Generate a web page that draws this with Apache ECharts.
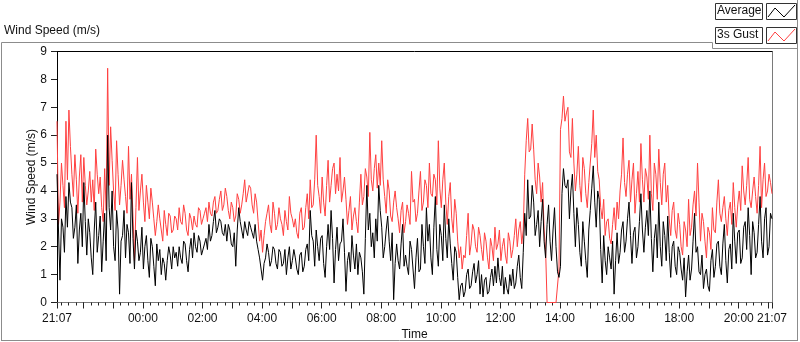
<!DOCTYPE html>
<html>
<head>
<meta charset="utf-8">
<script src="https://cdn.jsdelivr.net/npm/echarts@6.0.0/dist/echarts.min.js"></script>
<style>
  html, body { margin: 0; padding: 0; background: #fff; }
  #chart { width: 800px; height: 342px; }
</style>
</head>
<body>
<div id="chart"></div>
<script>
// samples every 3 minutes, starting 21:07 (minutes relative to midnight)
var startMinute = -173;
var stepMinutes = 3;

// 3s gust (m/s)
var gustSpeed = [
    6.5, 2.8, 3.6, 5.0, 4.2, 3.4, 6.5, 4.4, 6.9, 5.6, 4.6, 3.8, 5.3, 4.4, 3.2, 4.5, 5.3, 3.6, 5.2, 4.2,
    3.5, 4.0, 4.7, 3.6, 4.4, 3.3, 5.5, 4.6, 3.9, 4.5, 3.4, 2.9, 4.8, 3.3, 8.4, 4.2, 6.3, 5.1, 4.0, 3.3,
    5.8, 4.6, 3.5, 4.2, 5.1, 4.4, 3.8, 3.2, 5.6, 3.7, 4.6, 3.1, 1.5, 3.4, 5.2, 3.3, 4.0, 4.6, 3.6, 2.9,
    4.2, 3.6, 3.0, 4.1, 3.6, 3.0, 2.4, 2.9, 3.5, 3.0, 2.6, 2.2, 3.3, 2.8, 2.4, 3.2, 3.1, 2.5, 2.6, 3.1,
    3.0, 2.6, 3.4, 2.9, 2.8, 3.5, 3.2, 2.6, 2.4, 3.2, 3.0, 2.6, 3.1, 2.8, 2.7, 3.4, 3.3, 2.8, 3.0, 3.2,
    3.4, 2.9, 3.6, 3.2, 3.1, 3.6, 3.8, 3.2, 3.3, 3.7, 4.0, 3.3, 3.5, 4.1, 3.8, 3.3, 3.0, 3.6, 3.4, 2.9,
    3.1, 3.9, 3.7, 3.2, 3.5, 3.9, 4.4, 3.6, 3.6, 4.2, 4.1, 3.5, 3.2, 3.9, 3.6, 2.9, 2.2, 2.6, 1.8, 2.4,
    2.9, 3.2, 3.5, 2.8, 2.5, 3.6, 3.2, 2.6, 2.8, 3.4, 3.0, 2.8, 2.4, 3.3, 2.9, 2.6, 3.8, 3.2, 3.0, 2.7,
    3.0, 2.5, 2.3, 3.2, 3.4, 2.6, 2.7, 3.4, 3.9, 3.0, 4.4, 3.4, 3.5, 4.4, 6.0, 4.2, 3.8, 3.2, 4.5, 3.6,
    3.1, 4.2, 5.1, 3.6, 4.2, 4.8, 5.0, 3.9, 4.6, 4.0, 5.2, 3.6, 4.0, 4.5, 3.7, 2.8, 3.3, 3.8, 2.6, 3.1,
    3.4, 2.9, 2.5, 3.6, 4.6, 3.5, 3.8, 4.8, 4.5, 3.8, 6.1, 4.4, 4.0, 4.8, 5.3, 4.1, 5.0, 4.2, 5.8, 4.4,
    3.8, 3.2, 4.4, 4.0, 3.1, 2.9, 3.6, 4.0, 3.4, 3.0, 2.5, 3.3, 3.6, 2.5, 2.9, 3.5, 3.2, 2.8, 4.7, 3.6,
    3.7, 2.9, 3.2, 4.0, 4.7, 3.3, 3.6, 4.4, 4.2, 3.4, 5.0, 3.9, 3.8, 4.6, 4.4, 3.5, 5.8, 4.1, 3.4, 4.4,
    5.0, 3.6, 2.8, 3.8, 4.3, 3.0, 2.5, 3.7, 3.2, 2.2, 1.6, 2.0, 1.2, 1.7, 1.6, 2.4, 3.2, 1.7, 2.1, 2.8,
    2.6, 2.0, 1.8, 2.7, 2.4, 1.9, 1.5, 2.5, 2.2, 1.6, 1.2, 2.3, 2.0, 1.5, 2.7, 1.9, 2.1, 2.6, 1.5, 2.0,
    2.3, 1.7, 1.4, 2.5, 2.2, 1.6, 1.9, 2.4, 3.0, 2.0, 2.6, 2.9, 2.1, 2.6, 4.6, 5.8, 6.6, 5.4, 5.5, 6.4,
    5.5, 4.4, 3.9, 5.0, 4.5, 3.6, 4.3, 2.6, 1.9, 0, 0, 0, 0, 0, 0, 0, 0, 1.2, 6.2, 6.6,
    7.4, 6.5, 6.8, 7.0, 5.4, 5.2, 6.6, 5.0, 4.0, 4.6, 5.6, 4.2, 3.6, 5.2, 4.8, 3.9, 3.4, 4.3, 5.0, 5.7,
    6.9, 5.2, 6.0, 4.7, 4.4, 3.4, 3.0, 3.7, 2.4, 2.9, 3.0, 2.3, 2.1, 2.8, 3.4, 2.6, 3.6, 3.0, 4.0, 4.6,
    5.9, 4.3, 3.8, 4.6, 5.1, 3.6, 4.4, 5.0, 3.2, 3.9, 4.7, 3.6, 5.7, 4.4, 3.6, 4.8, 4.5, 3.7, 6.0, 3.9,
    3.3, 5.0, 4.6, 3.7, 5.5, 4.3, 3.5, 4.6, 5.0, 3.6, 4.2, 3.0, 2.4, 3.3, 3.6, 2.6, 2.3, 3.2, 2.8, 2.0,
    1.7, 2.9, 2.6, 2.0, 3.7, 2.4, 2.7, 3.5, 4.0, 3.1, 5.0, 3.6, 2.2, 3.2, 2.9, 2.2, 1.6, 2.7, 2.5, 1.9,
    3.4, 2.6, 2.5, 3.6, 4.4, 3.2, 2.9, 3.4, 3.8, 3.0, 2.4, 3.3, 3.6, 2.8, 4.3, 3.4, 2.7, 3.5, 4.0, 3.3,
    4.9, 4.0, 3.5, 4.2, 5.2, 3.7, 3.4, 4.0, 4.5, 3.8, 3.2, 4.2, 5.6, 3.4, 4.4, 5.0, 3.8, 4.0, 4.6, 4.3,
    3.9
];

// average (m/s)
var avgSpeed = [
    4.6, 2.6, 0.8, 3.0, 2.7, 1.8, 3.8, 2.7, 4.3, 3.6, 3.4, 2.3, 2.7, 3.5, 1.4, 2.6, 3.2, 2.0, 4.3, 2.9,
    1.7, 3.0, 2.5, 1.6, 1.0, 2.6, 3.6, 1.8, 2.4, 3.1, 1.1, 2.2, 3.2, 1.5, 6.0, 3.4, 2.6, 4.0, 2.0, 1.5,
    3.3, 2.6, 0.3, 2.2, 2.4, 3.3, 1.6, 2.8, 2.5, 1.4, 4.3, 2.3, 1.2, 2.6, 2.2, 1.5, 1.8, 2.7, 1.2, 2.0,
    2.4, 1.5, 0.9, 2.3, 2.0, 1.3, 0.6, 2.1, 1.5, 1.9, 1.0, 1.6, 1.4, 0.8, 1.5, 2.0, 1.7, 1.2, 2.0, 1.6,
    1.8, 1.3, 2.0, 1.6, 1.4, 2.2, 2.1, 1.5, 1.1, 1.9, 2.3, 1.6, 2.5, 2.0, 1.8, 2.4, 2.2, 1.7, 1.7, 2.1,
    2.3, 1.9, 2.8, 2.2, 2.4, 2.9, 3.3, 2.5, 2.7, 3.0, 2.9, 2.5, 2.4, 2.8, 2.2, 2.8, 2.6, 2.1, 2.0, 2.5,
    1.3, 2.6, 3.4, 2.9, 2.6, 2.3, 2.9, 2.6, 2.4, 2.9, 2.7, 2.5, 2.3, 2.8, 2.2, 1.9, 1.6, 1.2, 0.8, 1.4,
    1.6, 2.1, 1.8, 1.3, 1.5, 2.0, 1.9, 1.4, 1.2, 1.9, 1.8, 1.3, 1.4, 1.9, 1.0, 1.6, 2.0, 1.2, 1.5, 1.9,
    1.6, 1.2, 1.0, 1.7, 1.8, 1.1, 1.3, 1.9, 2.1, 1.5, 3.3, 2.4, 2.2, 1.3, 2.6, 2.0, 1.5, 2.3, 2.4, 1.4,
    0.9, 2.0, 2.8, 1.9, 3.3, 2.3, 0.7, 1.9, 2.7, 1.5, 2.1, 2.2, 3.0, 1.8, 0.4, 1.5, 1.8, 1.1, 2.4, 1.7,
    1.2, 2.1, 1.0, 1.8, 1.6, 1.1, 0.3, 2.3, 4.2, 2.6, 3.2, 2.0, 2.5, 1.6, 3.0, 2.2, 4.2, 3.3, 2.7, 1.6,
    2.0, 2.6, 3.1, 2.2, 1.5, 2.5, 0.1, 1.4, 2.1, 1.5, 1.2, 2.1, 2.8, 1.3, 1.7, 1.3, 1.0, 2.2, 1.9, 1.2,
    0.5, 1.6, 2.3, 1.1, 1.2, 2.8, 2.0, 1.4, 3.4, 2.2, 2.8, 1.6, 1.0, 2.7, 3.8, 1.9, 1.3, 2.8, 2.4, 1.5,
    3.5, 2.3, 1.6, 3.0, 2.1, 1.4, 0.8, 2.0, 1.8, 0.9, 0.1, 0.6, 0.7, 0.2, 0.4, 1.0, 1.2, 0.5, 0.6, 1.1,
    1.4, 0.7, 1.0, 1.5, 0.3, 1.0, 0.2, 0.8, 0.9, 0.3, 0.4, 0.9, 1.2, 0.6, 1.3, 0.7, 1.6, 0.9, 0.6, 1.3,
    0.3, 0.9, 0.5, 0.3, 1.0, 0.6, 1.2, 0.5, 0.7, 1.3, 1.7, 0.9, 0.5, 1.8, 3.2, 2.4, 4.4, 3.0, 3.1, 4.2,
    3.6, 2.4, 2.8, 3.3, 2.0, 2.9, 3.7, 2.2, 1.6, 2.8, 3.5, 2.2, 1.5, 2.6, 3.4, 2.0, 1.1, 0.9, 1.3, 3.9,
    4.8, 4.2, 4.1, 4.4, 3.0, 4.0, 4.6, 3.2, 2.0, 3.4, 2.8, 1.8, 1.3, 2.9, 2.2, 1.5, 0.9, 2.6, 3.3, 4.1,
    4.9, 3.6, 2.7, 4.0, 3.7, 1.9, 0.7, 2.4, 1.5, 1.0, 2.0, 1.6, 1.2, 2.2, 0.3, 1.5, 2.5, 1.4, 1.8, 2.6,
    2.9, 1.8, 2.2, 3.0, 3.6, 2.4, 1.4, 2.5, 2.7, 1.6, 2.0, 2.9, 3.9, 2.6, 1.8, 2.7, 3.3, 2.4, 4.0, 2.3,
    1.1, 2.3, 2.8, 1.6, 3.6, 2.0, 1.3, 2.9, 2.4, 1.5, 3.1, 1.8, 0.9, 2.0, 2.2, 1.3, 1.0, 2.0, 1.8, 1.2,
    0.8, 1.6, 0.2, 1.1, 1.7, 0.8, 1.2, 2.2, 3.2, 1.8, 2.0, 1.1, 1.0, 1.7, 0.5, 1.0, 1.2, 0.6, 0.4, 1.5,
    1.9, 0.9, 1.3, 2.1, 2.2, 1.3, 1.0, 2.1, 2.8, 1.5, 0.7, 1.9, 2.1, 1.2, 3.2, 2.2, 1.4, 2.5, 2.6, 1.4,
    1.6, 2.7, 2.9, 1.9, 3.4, 2.4, 1.0, 2.9, 2.5, 1.6, 1.8, 2.8, 3.8, 2.2, 1.6, 3.0, 3.4, 1.7, 2.0, 3.2,
    3.0
];

// x axis labels
var labelMinutes = [-173, 0, 120, 240, 360, 480, 600, 720, 840, 960, 1080, 1200, 1267];
var labelTexts = ['21:07', '00:00', '02:00', '04:00', '06:00', '08:00', '10:00', '12:00', '14:00', '16:00', '18:00', '20:00', '21:07'];

var endMinute = startMinute + stepMinutes * (gustSpeed.length - 1);

var toPairs = function(values) {
    var out = [];
    for (var i = 0; i < values.length; i++)
        out.push([startMinute + i * stepMinutes, values[i]]);
    return out;
};

var hourTicks = [startMinute];
for (var h = -120; h <= 1260; h += 60) hourTicks.push(h);
hourTicks.push(endMinute);
var quarterTicks = [];
for (var q = -165; q < endMinute; q += 15) quarterTicks.push(q);

var font = 'Liberation Sans, Arial, sans-serif';
var textColor = '#111';
var frameColor = '#8c8c8c';

var myChart = echarts.init(document.getElementById('chart'), null, {renderer: 'canvas'});

var option = {
    animation: false,
    backgroundColor: '#fff',
    grid: {left: 57, right: 28, top: 51.5, bottom: 39.5, containLabel: false, outerBoundsMode: 'none'},
    xAxis: [
        {
            type: 'value', min: startMinute, max: endMinute, position: 'bottom',
            name: 'Time', nameLocation: 'middle', nameGap: 26, nameMoveOverlap: false,
            nameTextStyle: {color: textColor, fontFamily: font, fontSize: 12},
            axisLine: {show: true, onZero: false, lineStyle: {color: '#7a7a7a', width: 1}},
            axisTick: {show: true, customValues: hourTicks, length: 6, lineStyle: {color: '#222'}},
            axisLabel: {
                show: true, customValues: labelMinutes, margin: 10,
                color: textColor, fontFamily: font, fontSize: 12,
                formatter: function(v) {
                    var i = labelMinutes.indexOf(v);
                    return i >= 0 ? labelTexts[i] : '';
                }
            },
            splitLine: {show: false}
        },
        {
            type: 'value', min: startMinute, max: endMinute, position: 'bottom',
            axisLine: {show: false, onZero: false},
            axisTick: {show: true, customValues: quarterTicks, length: 3, lineStyle: {color: '#222'}},
            axisLabel: {show: false},
            splitLine: {show: false}
        },
        {
            type: 'value', min: startMinute, max: endMinute, position: 'top',
            axisLine: {show: true, onZero: false, lineStyle: {color: '#000', width: 1}},
            axisTick: {show: false}, axisLabel: {show: false}, splitLine: {show: false}
        }
    ],
    yAxis: [
        {
            type: 'value', min: 0, max: 9, interval: 1, position: 'left',
            name: 'Wind Speed (m/s)', nameLocation: 'middle', nameGap: 19, nameMoveOverlap: false,
            nameTextStyle: {color: textColor, fontFamily: font, fontSize: 12},
            axisLine: {show: true, onZero: false, lineStyle: {color: '#000', width: 1}},
            axisTick: {show: true, length: 6, lineStyle: {color: '#222'}},
            axisLabel: {color: textColor, fontFamily: font, fontSize: 12, margin: 10},
            splitLine: {show: false}
        },
        {
            type: 'value', min: 0, max: 9, position: 'right',
            axisLine: {show: true, onZero: false, lineStyle: {color: '#7a7a7a', width: 1}},
            axisTick: {show: false}, axisLabel: {show: false}, splitLine: {show: false}
        }
    ],
    series: [
        {
            name: '3s Gust', type: 'line', xAxisIndex: 0, yAxisIndex: 0,
            data: toPairs(gustSpeed), showSymbol: false, symbol: 'none',
            lineStyle: {color: '#ff4040', width: 1}, itemStyle: {color: '#ff4040'}
        },
        {
            name: 'Average', type: 'line', xAxisIndex: 0, yAxisIndex: 0,
            data: toPairs(avgSpeed), showSymbol: false, symbol: 'none',
            lineStyle: {color: '#000', width: 1}, itemStyle: {color: '#000'}
        }
    ],
    graphic: [
        // outer frame
        {type: 'polyline', shape: {points: [[1.5, 341], [1.5, 42.5], [712.5, 42.5], [712.5, 48.5], [797.5, 48.5]]},
            style: {stroke: frameColor, fill: null, lineWidth: 1}},
        {type: 'line', shape: {x1: 797.5, y1: 0, x2: 797.5, y2: 341}, style: {stroke: frameColor, lineWidth: 1}},
        {type: 'line', shape: {x1: 1.5, y1: 340.5, x2: 797.5, y2: 340.5}, style: {stroke: frameColor, lineWidth: 1}},
        // chart label
        {type: 'text', left: 4, top: 25, style: {text: 'Wind Speed (m/s)', fill: textColor, font: '12px ' + font}},
        // legend
        {type: 'rect', shape: {x: 715.5, y: 3.5, width: 47, height: 16}, style: {fill: '#fff', stroke: '#333', lineWidth: 1}},
        {type: 'text', left: 717, top: 5, style: {text: 'Average', fill: textColor, font: '12px ' + font}},
        {type: 'rect', shape: {x: 766.5, y: 3.5, width: 30, height: 16}, style: {fill: '#fff', stroke: '#333', lineWidth: 1}},
        {type: 'polyline', shape: {points: [[768, 17], [775, 8], [784, 17], [795, 5]]}, style: {stroke: '#000', fill: null, lineWidth: 1}},
        {type: 'rect', shape: {x: 715.5, y: 27.5, width: 47, height: 16}, style: {fill: '#fff', stroke: '#333', lineWidth: 1}},
        {type: 'text', left: 717, top: 29, style: {text: '3s Gust', fill: textColor, font: '12px ' + font}},
        {type: 'rect', shape: {x: 766.5, y: 27.5, width: 30, height: 16}, style: {fill: '#fff', stroke: '#333', lineWidth: 1}},
        {type: 'polyline', shape: {points: [[768, 41], [775, 32], [784, 41], [795, 29]]}, style: {stroke: '#ff4040', fill: null, lineWidth: 1}}
    ]
};

myChart.setOption(option);
</script>
</body>
</html>
